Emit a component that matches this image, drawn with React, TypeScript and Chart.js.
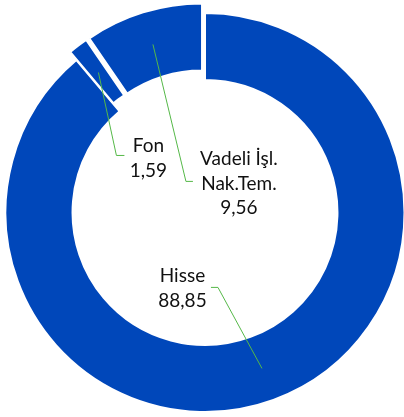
import React, { useEffect, useRef } from 'react';
import { Chart, registerables } from 'chart.js';

Chart.register(...registerables);

// ---- data ----
const categories: string[] = ['Hisse', 'Fon', 'Vadeli İşl. Nak.Tem.'];
const values: number[] = [88.85, 1.59, 9.56];
const valueLabels: string[] = ['88,85', '1,59', '9,56'];
const nameLines: string[][] = [['Hisse'], ['Fon'], ['Vadeli İşl.', 'Nak.Tem.']];

// ---- styling ----
const SLICE_COLOR = '#0047BA';
const LEADER_COLOR = '#55B848';
const EXPLODE = [0, 10, 10];
const FONT = '19px Lato, "Open Sans", sans-serif';
const LINE_H = 24.5;
// label layout relative to slice centroid: text centre x, first baseline y, leader bend, leader end
const LABEL_LAYOUT = [
  { tx: -79.5, ty: -86, bend: [-44, -81], end: [-51, -81] },
  { tx: 50, ty: 80, bend: [18, 83], end: [26, 83] },
  { tx: 86, ty: 121, bend: [33, 137], end: [40, 137] },
];

const explodePlugin = {
  id: 'explodeSlices',
  afterDatasetUpdate(chart: any, args: any) {
    const meta = chart.getDatasetMeta(args.index);
    meta.data.forEach((arc: any, i: number) => {
      const d = EXPLODE[i];
      if (!d) return;
      const mid = (arc.startAngle + arc.endAngle) / 2;
      arc.x += Math.cos(mid) * d;
      arc.y += Math.sin(mid) * d;
    });
  },
};

const labelPlugin = {
  id: 'sliceLabels',
  afterDatasetsDraw(chart: any) {
    const ctx: CanvasRenderingContext2D = chart.ctx;
    const meta = chart.getDatasetMeta(0);
    meta.data.forEach((arc: any, i: number) => {
      const mid = (arc.startAngle + arc.endAngle) / 2;
      const r = (arc.innerRadius + arc.outerRadius) / 2;
      const cx = arc.x + Math.cos(mid) * r;
      const cy = arc.y + Math.sin(mid) * r;
      const L = LABEL_LAYOUT[i];
      ctx.save();
      ctx.strokeStyle = LEADER_COLOR;
      ctx.lineWidth = 1;
      ctx.beginPath();
      ctx.moveTo(cx, cy);
      ctx.lineTo(cx + L.bend[0], cy + L.bend[1]);
      ctx.lineTo(cx + L.end[0], cy + L.end[1]);
      ctx.stroke();
      ctx.fillStyle = '#111';
      ctx.font = FONT;
      ctx.textAlign = 'center';
      ctx.textBaseline = 'alphabetic';
      const lines = [...nameLines[i], valueLabels[i]];
      lines.forEach((t, k) => {
        ctx.fillText(t, cx + L.tx, cy + L.ty + k * LINE_H);
      });
      ctx.restore();
    });
  },
};

export default function App() {
  const ref = useRef<HTMLCanvasElement>(null);
  useEffect(() => {
    if (!ref.current) return;
    const chart = new Chart(ref.current, {
      type: 'doughnut',
      data: {
        labels: categories,
        datasets: [
          {
            data: values,
            backgroundColor: SLICE_COLOR,
            borderColor: '#ffffff',
            borderWidth: 2,
          },
        ],
      },
      options: {
        responsive: false,
        animation: false,
        devicePixelRatio: 1,
        radius: 199.5,
        cutout: '66.4%',
        layout: { padding: { left: 6, top: 8, right: 0, bottom: 0 } },
        plugins: {
          legend: { display: false },
          tooltip: { enabled: false },
        },
      } as any,
      plugins: [explodePlugin, labelPlugin],
    });
    return () => chart.destroy();
  }, []);
  return (
    <div style={{ position: 'fixed', left: 0, top: 0, width: 404, height: 417, background: '#fff' }}>
      <canvas ref={ref} width={404} height={417} style={{ display: 'block' }} />
    </div>
  );
}
